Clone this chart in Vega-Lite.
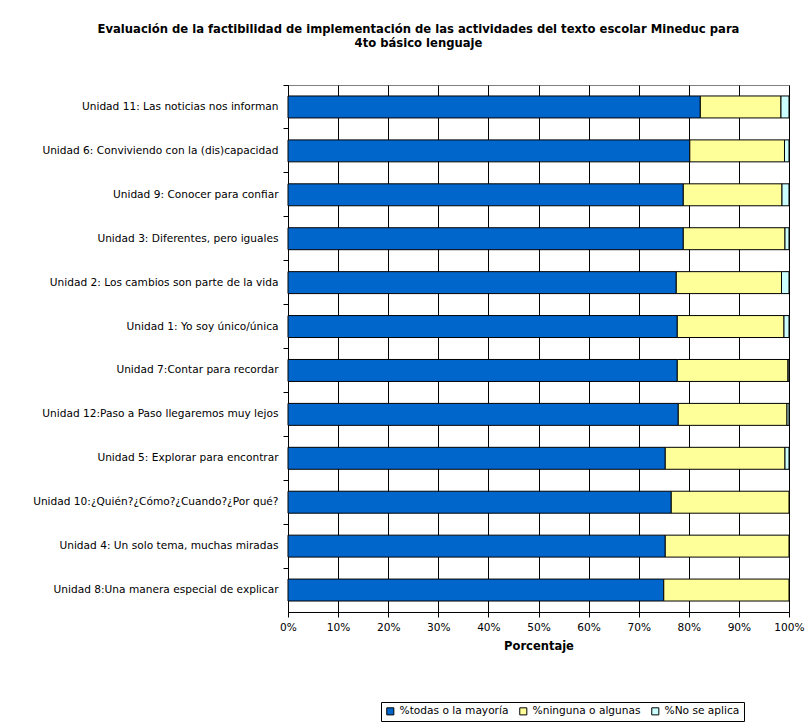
{
  "$schema": "https://vega.github.io/schema/vega-lite/v6.json",
  "width": 501,
  "height": 527,
  "autosize": {"type": "none"},
  "padding": {"left": 288, "top": 85, "right": 20, "bottom": 115},
  "background": "white",
  "title": {
    "text": ["Evaluación de la factibilidad de implementación de las actividades del texto escolar Mineduc para", "4to básico lenguaje"],
    "fontSize": 11.6,
    "fontWeight": "bold",
    "font": "DejaVu Sans",
    "color": "black",
    "anchor": "middle",
    "dx": -120,
    "offset": 35,
    "lineHeight": 14
  },
  "config": {
    "font": "DejaVu Sans",
    "view": {"stroke": "#808080"}
  },
  "data": {
    "values": [
      {"unidad": "Unidad 11: Las noticias nos informan", "categoria": "%todas o la mayoría", "k": 1, "valor": 82.3},
      {"unidad": "Unidad 11: Las noticias nos informan", "categoria": "%ninguna o algunas", "k": 2, "valor": 16.1},
      {"unidad": "Unidad 11: Las noticias nos informan", "categoria": "%No se aplica", "k": 3, "valor": 1.6},
      {"unidad": "Unidad 6: Conviviendo con la (dis)capacidad", "categoria": "%todas o la mayoría", "k": 1, "valor": 80.2},
      {"unidad": "Unidad 6: Conviviendo con la (dis)capacidad", "categoria": "%ninguna o algunas", "k": 2, "valor": 18.9},
      {"unidad": "Unidad 6: Conviviendo con la (dis)capacidad", "categoria": "%No se aplica", "k": 3, "valor": 0.9},
      {"unidad": "Unidad 9: Conocer para confiar", "categoria": "%todas o la mayoría", "k": 1, "valor": 78.9},
      {"unidad": "Unidad 9: Conocer para confiar", "categoria": "%ninguna o algunas", "k": 2, "valor": 19.7},
      {"unidad": "Unidad 9: Conocer para confiar", "categoria": "%No se aplica", "k": 3, "valor": 1.4},
      {"unidad": "Unidad 3: Diferentes, pero iguales", "categoria": "%todas o la mayoría", "k": 1, "valor": 78.9},
      {"unidad": "Unidad 3: Diferentes, pero iguales", "categoria": "%ninguna o algunas", "k": 2, "valor": 20.3},
      {"unidad": "Unidad 3: Diferentes, pero iguales", "categoria": "%No se aplica", "k": 3, "valor": 0.8},
      {"unidad": "Unidad 2: Los cambios son parte de la vida", "categoria": "%todas o la mayoría", "k": 1, "valor": 77.5},
      {"unidad": "Unidad 2: Los cambios son parte de la vida", "categoria": "%ninguna o algunas", "k": 2, "valor": 21.0},
      {"unidad": "Unidad 2: Los cambios son parte de la vida", "categoria": "%No se aplica", "k": 3, "valor": 1.5},
      {"unidad": "Unidad 1: Yo soy único/única", "categoria": "%todas o la mayoría", "k": 1, "valor": 77.7},
      {"unidad": "Unidad 1: Yo soy único/única", "categoria": "%ninguna o algunas", "k": 2, "valor": 21.3},
      {"unidad": "Unidad 1: Yo soy único/única", "categoria": "%No se aplica", "k": 3, "valor": 1.0},
      {"unidad": "Unidad 7:Contar para recordar", "categoria": "%todas o la mayoría", "k": 1, "valor": 77.7},
      {"unidad": "Unidad 7:Contar para recordar", "categoria": "%ninguna o algunas", "k": 2, "valor": 22.1},
      {"unidad": "Unidad 7:Contar para recordar", "categoria": "%No se aplica", "k": 3, "valor": 0.2},
      {"unidad": "Unidad 12:Paso a Paso llegaremos muy lejos", "categoria": "%todas o la mayoría", "k": 1, "valor": 77.9},
      {"unidad": "Unidad 12:Paso a Paso llegaremos muy lejos", "categoria": "%ninguna o algunas", "k": 2, "valor": 21.7},
      {"unidad": "Unidad 12:Paso a Paso llegaremos muy lejos", "categoria": "%No se aplica", "k": 3, "valor": 0.4},
      {"unidad": "Unidad 5: Explorar para encontrar", "categoria": "%todas o la mayoría", "k": 1, "valor": 75.3},
      {"unidad": "Unidad 5: Explorar para encontrar", "categoria": "%ninguna o algunas", "k": 2, "valor": 23.9},
      {"unidad": "Unidad 5: Explorar para encontrar", "categoria": "%No se aplica", "k": 3, "valor": 0.8},
      {"unidad": "Unidad 10:¿Quién?¿Cómo?¿Cuando?¿Por qué?", "categoria": "%todas o la mayoría", "k": 1, "valor": 76.5},
      {"unidad": "Unidad 10:¿Quién?¿Cómo?¿Cuando?¿Por qué?", "categoria": "%ninguna o algunas", "k": 2, "valor": 23.5},
      {"unidad": "Unidad 4: Un solo tema, muchas miradas", "categoria": "%todas o la mayoría", "k": 1, "valor": 75.3},
      {"unidad": "Unidad 4: Un solo tema, muchas miradas", "categoria": "%ninguna o algunas", "k": 2, "valor": 24.7},
      {"unidad": "Unidad 8:Una manera especial de explicar", "categoria": "%todas o la mayoría", "k": 1, "valor": 75.0},
      {"unidad": "Unidad 8:Una manera especial de explicar", "categoria": "%ninguna o algunas", "k": 2, "valor": 25.0}
    ]
  },
  "layer": [
    {
      "mark": {"type": "bar", "stroke": "black", "strokeWidth": 1},
      "encoding": {
        "y": {
          "field": "unidad",
          "type": "nominal",
          "sort": null,
          "scale": {"paddingInner": 0.5, "paddingOuter": 0.25},
          "axis": {"orient": "left", "title": null, "ticks": false, "labelPadding": 10, "domainColor": "black", "labelFontSize": 10.6, "labelColor": "black", "labelLimit": 300}
        },
        "x": {
          "field": "valor",
          "type": "quantitative",
          "stack": true,
          "scale": {"domain": [0, 100]},
          "axis": {
            "values": [0, 10, 20, 30, 40, 50, 60, 70, 80, 90, 100],
            "labelExpr": "datum.value + '%'",
            "labelFlush": false,
            "labelOverlap": false,
            "grid": true,
            "gridColor": "black",
            "gridOpacity": 1,
            "tickColor": "black",
            "domainColor": "black",
            "tickSize": 5,
            "labelPadding": 5,
            "labelFontSize": 10.6,
            "labelColor": "black",
            "title": "Porcentaje",
            "titleFontSize": 11.5,
            "titleFontWeight": "bold",
            "titleColor": "black",
            "titlePadding": 8
          }
        },
        "color": {
          "field": "categoria",
          "type": "nominal",
          "scale": {
            "domain": ["%todas o la mayoría", "%ninguna o algunas", "%No se aplica"],
            "range": ["#0066CC", "#FFFF99", "#CCFFFF"]
          },
          "legend": {
            "orient": "none",
            "legendX": 93,
            "legendY": 617,
            "direction": "horizontal",
            "title": null,
            "strokeColor": "black",
            "fillColor": "white",
            "padding": 4,
            "symbolType": "square",
            "symbolSize": 50,
            "symbolStrokeColor": "black",
            "symbolStrokeWidth": 1,
            "symbolOpacity": 1,
            "labelFontSize": 10.6,
            "labelColor": "black",
            "columnPadding": 8,
            "labelOffset": 4
          }
        },
        "order": {"field": "k", "type": "quantitative"}
      }
    },
    {
      "mark": {"type": "bar", "opacity": 0},
      "encoding": {
        "y": {
          "field": "unidad",
          "type": "nominal",
          "sort": null,
          "axis": {"orient": "left", "title": null, "labels": false, "domain": false, "ticks": true, "tickSize": 5, "tickColor": "black", "bandPosition": -0.5}
        }
      }
    }
  ],
  "resolve": {"axis": {"y": "independent"}}
}
